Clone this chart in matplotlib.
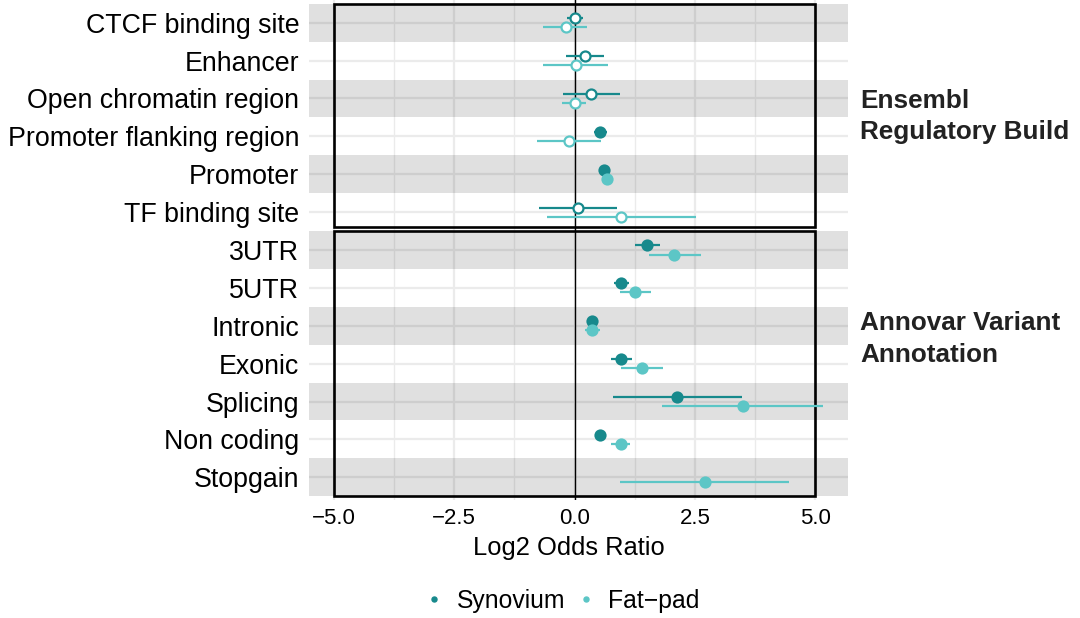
""" forest plot of log2 odds ratios for variant enrichment in regulatory
 and annotation categories, synovium vs fat-pad """

import numpy as np
import matplotlib.pyplot as plt
from matplotlib.lines import Line2D
from matplotlib.patches import Rectangle

plt.rcParams['font.family'] = ['Liberation Sans', 'DejaVu Sans']

###############################################################################
# data
###############################################################################
categories = ["CTCF binding site", "Enhancer", "Open chromatin region",
              "Promoter flanking region", "Promoter", "TF binding site",
              "3UTR", "5UTR", "Intronic", "Exonic", "Splicing",
              "Non coding", "Stopgain"]

# synovium estimates with 95% CI, nan where there is no estimate
syn_or = [0.01, 0.22, 0.35, 0.53, 0.60, 0.07,
          1.51, 0.96, 0.37, 0.96, 2.13, 0.53, np.nan]
syn_lo = [-0.15, -0.17, -0.24, 0.40, 0.55, -0.74,
          1.26, 0.82, 0.33, 0.75, 0.80, 0.48, np.nan]
syn_hi = [0.18, 0.62, 0.94, 0.67, 0.65, 0.88,
          1.77, 1.12, 0.41, 1.19, 3.47, 0.58, np.nan]
syn_sig = [False, False, False, True, True, False,
           True, True, True, True, True, True, False]

fat_or = [-0.19, 0.03, 0.00, -0.12, 0.67, 0.96,
          2.07, 1.25, 0.37, 1.39, 3.50, 0.96, 2.70]
fat_lo = [-0.66, -0.66, -0.26, -0.79, 0.57, -0.58,
          1.54, 0.94, 0.21, 0.96, 1.82, 0.75, 0.95]
fat_hi = [0.26, 0.69, 0.24, 0.54, 0.80, 2.52,
          2.62, 1.58, 0.52, 1.84, 5.17, 1.16, 4.46]
fat_sig = [False, False, False, False, True, False,
           True, True, True, True, True, True, True]

tissues = ["Synovium", "Fat\u2212pad"]
colours = ["#17898c", "#5cc6c6"]

###############################################################################
# plot
###############################################################################
fig = plt.figure(figsize=(10.8, 6.18), dpi=100)
ax = fig.add_axes([309 / 1080, 1 - 500 / 618, 539 / 1080, 500 / 618])

n = len(categories)
ypos = np.arange(n, 0, -1)  # first category on top

# light grid underneath everything
ax.set_axisbelow(True)
ax.set_xticks([-5, -2.5, 0, 2.5, 5])
ax.set_xticks([-3.75, -1.25, 1.25, 3.75], minor=True)
ax.set_yticks(ypos)
ax.set_yticklabels(categories)
ax.grid(True, which='major', color='#ebebeb', linewidth=1.6)
ax.grid(True, which='minor', axis='x', color='#ebebeb', linewidth=1.0)

# alternating shaded rows
for i, y in enumerate(ypos):
    if i % 2 == 0:
        ax.axhspan(y - 0.5, y + 0.5, color='black', alpha=0.12,
                   linewidth=0, zorder=1)

# outline boxes for the two annotation sources
ax.add_patch(Rectangle((-5, 7.6), 10, 5.9, fill=False, edgecolor='black',
                       linewidth=1.9, zorder=2))
ax.add_patch(Rectangle((-5, 0.5), 10, 7.0, fill=False, edgecolor='black',
                       linewidth=1.9, zorder=2))

ax.axvline(0, color='black', linewidth=1.0, zorder=2)

# point ranges, dodged vertically
dodge = 0.12
series = [(syn_or, syn_lo, syn_hi, syn_sig, +dodge),
          (fat_or, fat_lo, fat_hi, fat_sig, -dodge)]
for (est, lo, hi, sig, off), col in zip(series, colours):
    for y, e, l, h, s in zip(ypos, est, lo, hi, sig):
        if np.isnan(e):
            continue
        ax.plot([l, h], [y + off, y + off], color=col, linewidth=1.6,
                solid_capstyle='butt', zorder=3)
        ax.plot(e, y + off, marker='o', markersize=7.2,
                markerfacecolor=col if s else 'white',
                markeredgecolor=col, markeredgewidth=1.6, zorder=4)

ax.set_xlim(-5.52, 5.68)
ax.set_ylim(0.4, 13.6)

for side in ax.spines.values():
    side.set_visible(False)
ax.tick_params(axis='both', which='both', length=0, labelcolor='black')
ax.tick_params(axis='y', pad=7, labelsize=19.3)
ax.tick_params(axis='x', pad=6, labelsize=16)
ax.set_xlabel("Log2 Odds Ratio", fontsize=18.4)
ax.xaxis.set_label_coords(0.482, -0.072)

# group labels on the right
fig.text(860 / 1080, 1 - 116.5 / 618, "Ensembl\nRegulatory Build",
         fontsize=18.8, weight='bold', color='#222222', va='center',
         ha='left', linespacing=1.4)
fig.text(860 / 1080, 1 - 339 / 618, "Annovar Variant\nAnnotation",
         fontsize=18.8, weight='bold', color='#222222', va='center',
         ha='left', linespacing=1.4)

# legend
handles = [Line2D([], [], linestyle='none', marker='o', markersize=3.6,
                  color=c) for c in colours]
fig.legend(handles, tissues, loc='center', ncol=2, frameon=False,
           bbox_to_anchor=(562 / 1080, 1 - 601 / 618), fontsize=17.8,
           handlelength=0.8, handletextpad=0.5, columnspacing=0.45)

fig.savefig("out.png", dpi=100)
